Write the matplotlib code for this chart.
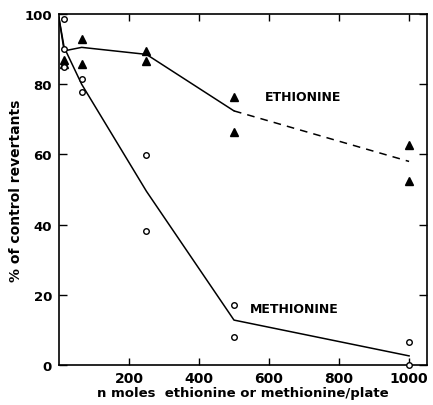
import matplotlib

matplotlib.use("Agg")
import matplotlib.pyplot as plt

eth_x = [15, 15, 65, 65, 250, 250, 500, 500, 1000, 1000]
eth_y = [87, 85.8, 93, 85.8, 89.6, 86.5, 76.4, 66.4, 62.7, 52.4]
met_x = [15, 15, 15, 65, 65, 250, 250, 500, 500, 1000, 1000]
met_y = [98.6, 90, 85, 81.5, 77.8, 59.8, 38.2, 17.1, 8, 6.6, 0]

# fitted curves drawn by hand in the original
eth_line_x = [0, 15, 65, 250, 500]
eth_line_y = [99, 89.5, 90.5, 88.5, 72.4]
eth_dash_x = [500, 1000]
eth_dash_y = [72.4, 58]
met_line_x = [0, 15, 65, 250, 500, 1000]
met_line_y = [99, 90.5, 80, 49.5, 12.8, 2.6]

xticks = [200, 400, 600, 800, 1000]
yticks = [0, 20, 40, 60, 80, 100]

plt.rcParams["font.family"] = "DejaVu Sans"
plt.rcParams["font.weight"] = "bold"

fig = plt.figure(figsize=(4.33, 4.06), dpi=100)
ax = fig.add_axes([0.136, 0.0985, 0.85, 0.8645])

ax.plot(eth_line_x, eth_line_y, color="black", lw=1.1)
ax.plot(eth_dash_x, eth_dash_y, color="black", lw=1.1, ls=(0, (5, 4)))
ax.plot(met_line_x, met_line_y, color="black", lw=1.1)

ax.plot(eth_x, eth_y, ls="none", marker="^", ms=5.5, color="black")
ax.plot(met_x, met_y, ls="none", marker="o", ms=4, mfc="white", mec="black",
        mew=1.0, clip_on=False, zorder=5)

ax.text(589, 76.6, "ETHIONINE", fontsize=9, va="center", ha="left")
ax.text(546, 16.2, "METHIONINE", fontsize=9, va="center", ha="left")

ax.set_xlim(0, 1051)
ax.set_ylim(0, 100)
ax.set_xticks(xticks)
ax.set_yticks(yticks)
ax.tick_params(axis="x", direction="in", top=True, length=5, width=1,
               labelsize=10, pad=4)
ax.tick_params(axis="y", direction="in", right=True, length=6, width=1,
               labelsize=9.5, pad=5)

for s in ax.spines.values():
    s.set_linewidth(1.2)

ax.set_xlabel("n moles  ethionine or methionine/plate", fontsize=9.5,
              fontweight="bold", labelpad=1)
ax.set_ylabel("% of control revertants", fontsize=10, fontweight="bold",
              labelpad=1)

fig.savefig("out.png", dpi=100)
